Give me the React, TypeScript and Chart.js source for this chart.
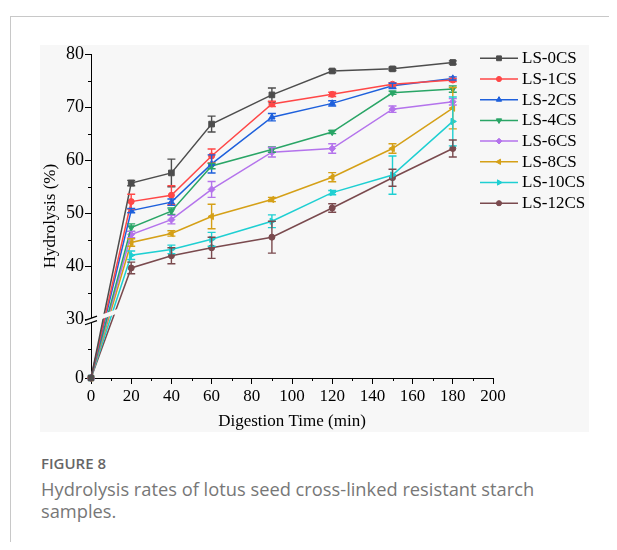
import React, { useEffect, useRef } from 'react';
import { Chart, registerables, LinearScale } from 'chart.js';
import { drawPoint } from 'chart.js/helpers';

// ---------------- data ----------------
const times = [0, 20, 40, 60, 90, 120, 150, 180];
const seriesNames = ['LS-0CS', 'LS-1CS', 'LS-2CS', 'LS-4CS', 'LS-6CS', 'LS-8CS', 'LS-10CS', 'LS-12CS'];

const ls0 = [0, 55.7, 57.6, 66.8, 72.3, 76.8, 77.2, 78.4];
const ls1 = [0, 52.2, 53.4, 60.8, 70.6, 72.4, 74.3, 75.1];
const ls2 = [0, 50.5, 52.1, 59.3, 68.1, 70.7, 74.0, 75.4];
const ls4 = [0, 47.3, 50.4, 58.9, 62.0, 65.3, 72.7, 73.4];
const ls6 = [0, 46.0, 48.8, 54.5, 61.5, 62.2, 69.6, 71.0];
const ls8 = [0, 44.5, 46.2, 49.4, 52.6, 56.8, 62.2, 69.8];
const ls10 = [0, 42.1, 43.2, 45.1, 48.5, 53.9, 57.2, 67.3];
const ls12 = [0, 39.7, 42.0, 43.5, 45.5, 51.0, 56.7, 62.2];

const ls0Err = [0, 0.5, 2.6, 1.5, 1.3, 0.3, 0.3, 0.3];
const ls1Err = [0, 1.4, 1.8, 1.3, 0.5, 0.4, 0.3, 0.3];
const ls2Err = [0, 0.4, 0.6, 1.7, 0.7, 0.5, 0.5, 0.3];
const ls4Err = [0, 0.7, 0.6, 0.5, 0.5, 0.3, 0.3, 0.6];
const ls6Err = [0, 0.6, 0.8, 1.5, 0.9, 0.9, 0.6, 0.6];
const ls8Err = [0, 0.7, 0.5, 2.3, 0.4, 0.85, 0.9, 3.9];
const ls10Err = [0, 0.8, 0.8, 1.3, 1.2, 0.4, 3.6, 4.6];
const ls12Err = [0, 1.1, 1.5, 2.0, 3.0, 0.8, 1.6, 1.6];

const seriesValues = [ls0, ls1, ls2, ls4, ls6, ls8, ls10, ls12];
const seriesErrors = [ls0Err, ls1Err, ls2Err, ls4Err, ls6Err, ls8Err, ls10Err, ls12Err];

const yTickValues = [0, 30, 40, 50, 60, 70, 80];
const yMinorTicks = [15, 35, 45, 55, 65, 75];
const xMinorTicks = [10, 30, 50, 70, 90, 110, 130, 150, 170, 190];

const xTitle = 'Digestion Time (min)';
const yTitle = 'Hydrolysis (%)';

// ---------------- styles ----------------
const colors = ['#4d4d4d', '#ff4747', '#1e60dc', '#29a566', '#b473ec', '#d5a017', '#1ecfd2', '#7a4a4e'];
const pointStyles = ['rect', 'circle', 'triangle', 'triangle', 'rectRot', 'triangle', 'triangle', 'circle'];
const pointRotations = [0, 0, 0, 180, 0, 270, 90, 0];
const pointRadii = [4, 3, 3.6, 3.6, 3.4, 3.6, 3.6, 3];

const BG = '#f7f7f7';
const FONT_FAMILY = '"Liberation Serif", "Times New Roman", serif';
const BREAK_AT = 30;
const LOWER_SHARE = 0.1806;

class BrokenLinearScale extends LinearScale {
  static id = 'brokenLinear';
  static defaults = {};
  buildTicks() {
    return yTickValues.map((v) => ({ value: v }));
  }
  getPixelForValue(value: any) {
    if (value === null || value === undefined || isNaN(value)) return NaN;
    const min = (this as any).min;
    const max = (this as any).max;
    let dec;
    if (value <= BREAK_AT) dec = ((value - min) / (BREAK_AT - min)) * LOWER_SHARE;
    else dec = LOWER_SHARE + ((value - BREAK_AT) / (max - BREAK_AT)) * (1 - LOWER_SHARE);
    return (this as any).getPixelForDecimal(dec);
  }
  getValueForPixel(pixel: number) {
    const min = (this as any).min;
    const max = (this as any).max;
    const dec = (this as any).getDecimalForPixel(pixel);
    if (dec <= LOWER_SHARE) return min + (dec / LOWER_SHARE) * (BREAK_AT - min);
    return BREAK_AT + ((dec - LOWER_SHARE) / (1 - LOWER_SHARE)) * (max - BREAK_AT);
  }
}

Chart.register(...registerables, BrokenLinearScale as any);

const bgPlugin = {
  id: 'bgFill',
  beforeDraw(chart: any) {
    const ctx = chart.ctx;
    ctx.save();
    ctx.fillStyle = BG;
    ctx.fillRect(0, 0, chart.width, chart.height);
    ctx.restore();
  },
};

const overlayPlugin = {
  id: 'errorBarsAndBreak',
  afterDatasetsDraw(chart: any) {
    const { ctx, scales, chartArea } = chart;
    const xs = scales.x;
    const ys = scales.y;
    ctx.save();
    // error bars
    seriesErrors.forEach((errs, i) => {
      ctx.strokeStyle = colors[i];
      ctx.lineWidth = 1.4;
      errs.forEach((e, j) => {
        if (!e) return;
        const v = seriesValues[i][j];
        const px = xs.getPixelForValue(times[j]);
        const top = ys.getPixelForValue(v + e);
        const bot = ys.getPixelForValue(v - e);
        ctx.beginPath();
        ctx.moveTo(px, top);
        ctx.lineTo(px, bot);
        ctx.moveTo(px - 4, top);
        ctx.lineTo(px + 4, top);
        ctx.moveTo(px - 4, bot);
        ctx.lineTo(px + 4, bot);
        ctx.stroke();
      });
    });
    // axis break
    const ax = chartArea.left;
    const P = ys.getPixelForValue(BREAK_AT);
    const slope = 0.35;
    const half = 2.2;
    const yc = (xx: number) => P + 1 - slope * (xx - ax);
    const x0 = ax - 7;
    const x1 = ax + 28;
    ctx.fillStyle = BG;
    ctx.beginPath();
    ctx.moveTo(x0, yc(x0) - half);
    ctx.lineTo(x1, yc(x1) - half);
    ctx.lineTo(x1, yc(x1) + half);
    ctx.lineTo(x0, yc(x0) + half);
    ctx.closePath();
    ctx.fill();
    ctx.strokeStyle = '#000';
    ctx.lineWidth = 1.2;
    const s0 = ax - 6;
    const s1 = ax + 6;
    ctx.beginPath();
    ctx.moveTo(s0, yc(s0) - half);
    ctx.lineTo(s1, yc(s1) - half);
    ctx.moveTo(s0, yc(s0) + half);
    ctx.lineTo(s1, yc(s1) + half);
    ctx.stroke();
    ctx.restore();
  },
  afterDraw(chart: any) {
    const { ctx, scales, chartArea } = chart;
    const xs = scales.x;
    const ys = scales.y;
    ctx.save();
    // minor ticks
    ctx.strokeStyle = '#000';
    ctx.lineWidth = 1;
    ctx.beginPath();
    yMinorTicks.forEach((v) => {
      const py = Math.round(ys.getPixelForValue(v)) + 0.5;
      ctx.moveTo(chartArea.left - 3, py);
      ctx.lineTo(chartArea.left, py);
    });
    xMinorTicks.forEach((v) => {
      const px = Math.round(xs.getPixelForValue(v)) + 0.5;
      ctx.moveTo(px, chartArea.bottom);
      ctx.lineTo(px, chartArea.bottom + 3);
    });
    ctx.stroke();
    // legend
    const lx0 = chartArea.right - 13;
    const ly0 = chartArea.top + 4.3;
    const dy = 20.7;
    seriesNames.forEach((name, i) => {
      const yy = ly0 + i * dy;
      ctx.strokeStyle = colors[i];
      ctx.lineWidth = 1.5;
      ctx.beginPath();
      ctx.moveTo(lx0, yy);
      ctx.lineTo(lx0 + 38, yy);
      ctx.stroke();
      ctx.fillStyle = colors[i];
      ctx.strokeStyle = colors[i];
      ctx.lineWidth = 1;
      drawPoint(ctx, { pointStyle: pointStyles[i], rotation: pointRotations[i], radius: pointRadii[i] * 0.85, borderWidth: 1 } as any, lx0 + 19, yy);
      ctx.fillStyle = '#000';
      ctx.font = '17px ' + FONT_FAMILY;
      ctx.textBaseline = 'middle';
      ctx.textAlign = 'left';
      ctx.fillText(name, lx0 + 42, yy + 0.5);
    });
    ctx.restore();
  },
};

export default function App() {
  const canvasRef = useRef<HTMLCanvasElement | null>(null);

  useEffect(() => {
    const canvas = canvasRef.current;
    if (!canvas) return;
    const tickFont = { family: FONT_FAMILY, size: 17 };
    const yTickFont = { family: FONT_FAMILY, size: 18 };
    const chart = new Chart(canvas, {
      type: 'line',
      data: {
        datasets: seriesNames.map((name, i) => ({
          label: name,
          data: times.map((t, j) => ({ x: t, y: seriesValues[i][j] })),
          borderColor: colors[i],
          backgroundColor: colors[i],
          borderWidth: 1.5,
          pointStyle: pointStyles[i] as any,
          pointRotation: pointRotations[i],
          pointRadius: pointRadii[i],
          pointBorderWidth: 1,
          pointBackgroundColor: colors[i],
          pointBorderColor: colors[i],
          tension: 0,
          clip: false as any,
        })),
      },
      options: {
        animation: false,
        responsive: false,
        events: [],
        layout: { padding: { top: 9, right: 96, left: 0, bottom: 0 } },
        plugins: {
          legend: { display: false },
          tooltip: { enabled: false },
        },
        scales: {
          x: {
            type: 'linear',
            min: 0,
            max: 200,
            ticks: { stepSize: 20, autoSkip: false, maxRotation: 0, padding: 2, color: '#000', font: tickFont },
            grid: { drawOnChartArea: false, tickLength: 6, tickColor: '#000', color: '#000' },
            border: { display: true, color: '#000', width: 1 },
            title: { display: true, text: xTitle, color: '#000', font: tickFont, padding: { top: 0, bottom: 0 } },
            afterFit: (s: any) => {
              s.height = 54;
              s.paddingLeft = 0;
              s.paddingRight = 0;
            },
          },
          y: {
            type: 'brokenLinear' as any,
            min: 0,
            max: 80,
            ticks: { autoSkip: false, padding: 1, color: '#000', font: yTickFont },
            grid: { drawOnChartArea: false, tickLength: 6, tickColor: '#000', color: '#000' },
            border: { display: true, color: '#000', width: 1 },
            title: { display: true, text: yTitle, color: '#000', font: tickFont, padding: { top: 0, bottom: 0 } },
            afterFit: (s: any) => {
              s.width = 51;
              s.paddingTop = 0;
              s.paddingBottom = 0;
            },
          } as any,
        },
      },
      plugins: [bgPlugin, overlayPlugin],
    } as any);
    return () => chart.destroy();
  }, []);

  return (
    <div style={{ position: 'relative', width: 609, height: 534, overflow: 'hidden' }}>
      <div
        style={{
          position: 'absolute',
          left: 2,
          top: 8,
          width: 610,
          height: 530,
          borderTop: '1px solid #c8c8c8',
          borderLeft: '1px solid #c8c8c8',
        }}
      />
      <div style={{ position: 'absolute', left: 32, top: 37, width: 549, height: 387 }}>
        <canvas ref={canvasRef} width={549} height={387} style={{ display: 'block', width: 549, height: 387 }} />
      </div>
      <div
        style={{
          position: 'absolute',
          left: 33,
          top: 444.6,
          fontFamily: '"Open Sans", sans-serif',
          fontWeight: 600,
          fontSize: 15,
          lineHeight: '20px',
          color: '#666',
          whiteSpace: 'nowrap',
        }}
      >
        FIGURE 8
      </div>
      <div
        style={{
          position: 'absolute',
          left: 33,
          top: 469.6,
          fontFamily: '"Open Sans", sans-serif',
          fontSize: 18.3,
          lineHeight: '22.5px',
          color: '#777',
          whiteSpace: 'nowrap',
        }}
      >
        Hydrolysis rates of lotus seed cross-linked resistant starch
        <br />
        samples.
      </div>
    </div>
  );
}
